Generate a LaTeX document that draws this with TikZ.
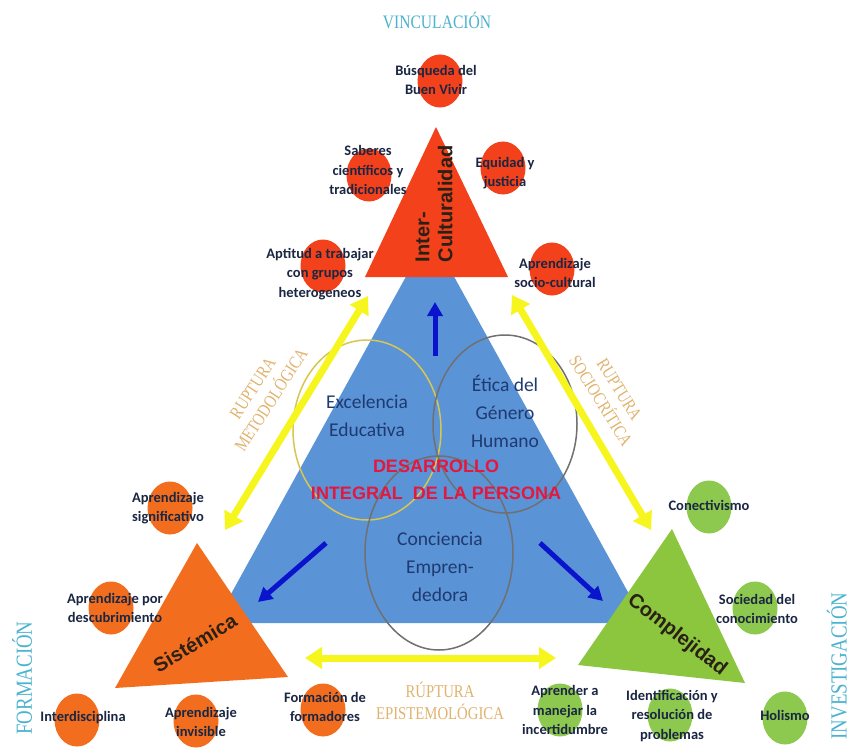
\documentclass[tikz,border=0pt]{standalone}
\usepackage{fontspec}
\setmainfont{Carlito}
\newfontfamily\headfont{Liberation Sans}
\newfontfamily\rupfont[FakeStretch=0.82]{Liberation Serif}
\usetikzlibrary{arrows.meta}
\usetikzlibrary{shapes.geometric}
\definecolor{blueTri}{HTML}{5A93D6}
\definecolor{redTri}{HTML}{F2411B}
\definecolor{orTri}{HTML}{F26E1E}
\definecolor{grTri}{HTML}{8CC63F}
\definecolor{grBub}{HTML}{8DC84F}
\definecolor{labText}{HTML}{1A2642}
\definecolor{innerText}{HTML}{1F3A70}
\definecolor{desaRed}{HTML}{E5173F}
\definecolor{triText}{HTML}{2A2016}
\definecolor{rupGold}{HTML}{E0B36E}
\definecolor{capsTeal}{HTML}{4BB3CF}
\definecolor{arrowYellow}{HTML}{F6F61E}
\definecolor{arrowBlue}{HTML}{0A14CC}
\definecolor{ringYellow}{HTML}{D8C650}
\definecolor{ringGray}{HTML}{707070}

\begin{document}
\begin{tikzpicture}[x=1pt, y=-1pt,
    bubble/.style={ellipse, minimum width=45pt, minimum height=53pt, inner sep=0pt},
    redbub/.style={bubble, fill=redTri},
    orbub/.style={bubble, fill=orTri},
    grbub/.style={bubble, fill=grBub},
    bubtext/.style={font=\bfseries\fontsize{14.5}{19.5}\selectfont, text=labText, align=center, inner sep=0pt},
    innertext/.style={font=\fontsize{19.5}{28}\selectfont, text=innerText, align=center, inner sep=0pt},
    trilabel/.style={font=\headfont\bfseries\fontsize{20}{23}\selectfont, text=triText, inner sep=0pt},
    ruptext/.style={font=\rupfont\fontsize{18}{22}\selectfont, text=rupGold, align=center, inner sep=0pt},
    axistext/.style={font=\rupfont\fontsize{23}{26}\selectfont, text=capsTeal, inner sep=0pt},
    ring/.style={line width=1.5pt},
    ruparrow/.style={draw=arrowYellow, line width=7pt, {Triangle[width=21pt,length=17pt]}-{Triangle[width=21pt,length=17pt]}},
    bluearrow/.style={draw=arrowBlue, line width=5pt, -{Triangle[width=15pt,length=14pt]}}
  ]
  \fill[white] (0,0) rectangle (851,749);
  \useasboundingbox (0,0) rectangle (851,749);

  \fill[blueTri] (430,233) -- (215,623) -- (645,623) -- cycle;
  \draw[ring, ringYellow] (367,430) ellipse (74 and 90);
  \draw[ring, ringGray] (505,424) ellipse (72 and 89);
  \draw[ring, ringGray] (439,553) ellipse (74 and 97);

  \fill[redTri] (436,127) -- (365,277) -- (508,277) -- cycle;
  \fill[orTri] (197,543) -- (115,688) -- (288,677) -- cycle;
  \fill[grTri] (672,529) -- (578,665) -- (745,683) -- cycle;

  \node[redbub] (vivir) at (440,81) {};
  \node[redbub] (saberes) at (369,175) {};
  \node[redbub] (equidad) at (503,168) {};
  \node[redbub] (aptitud) at (323,266) {};
  \node[redbub] (sociocult) at (552,269) {};
  \node[orbub] (signif) at (170,508) {};
  \node[orbub] (descub) at (111,608) {};
  \node[orbub] (interdis) at (77,720) {};
  \node[orbub] (invisible) at (196,721) {};
  \node[orbub] (formadores) at (323,710) {};
  \node[grbub] (conect) at (709,507) {};
  \node[grbub] (sociedad) at (755,608) {};
  \node[grbub] (incert) at (560,710) {};
  \node[grbub] (problemas) at (670,715) {};
  \node[grbub] (holismo) at (785,718) {};

  \coordinate (metod-a) at (368,296);
  \coordinate (metod-b) at (225,530);
  \coordinate (socio-a) at (512,295);
  \coordinate (socio-b) at (651,530);
  \coordinate (epist-a) at (305,658);
  \coordinate (epist-b) at (556,658);
  \draw[ruparrow] (metod-b) -- (metod-a);
  \draw[ruparrow] (socio-a) -- (socio-b);
  \draw[ruparrow] (epist-a) -- (epist-b);

  \coordinate (up-a) at (435,356);
  \coordinate (up-b) at (435,302);
  \coordinate (left-a) at (326,543);
  \coordinate (left-b) at (258,602);
  \coordinate (right-a) at (540,543);
  \coordinate (right-b) at (603,601);
  \draw[bluearrow] (up-a) -- (up-b);
  \draw[bluearrow] (left-a) -- (left-b);
  \draw[bluearrow] (right-a) -- (right-b);

  \node[bubtext] (vivir-t) at (436,80) {Búsqueda del\\Buen Vivir};
  \node[bubtext] (saberes-t) at (368,170) {Saberes\\científicos y\\tradicionales};
  \node[bubtext] (equidad-t) at (505,173) {Equidad y\\justicia};
  \node[bubtext] (aptitud-t) at (320,274) {Aptitud a trabajar\\con grupos\\heterogeneos};
  \node[bubtext] (sociocult-t) at (555,273) {Aprendizaje\\socio-cultural};
  \node[bubtext] (signif-t) at (168,508) {Aprendizaje\\significativo};
  \node[bubtext] (descub-t) at (115,608) {Aprendizaje por\\descubrimiento};
  \node[bubtext] (interdis-t) at (83,718) {Interdisciplina};
  \node[bubtext] (invisible-t) at (201,722) {Aprendizaje\\invisible};
  \node[bubtext] (formadores-t) at (325,707) {Formación de\\formadores};
  \node[bubtext] (conect-t) at (709,505) {Conectivismo};
  \node[bubtext] (sociedad-t) at (757,609) {Sociedad del\\conocimiento};
  \node[bubtext] (incert-t) at (565,710) {Aprender a\\manejar la\\incertidumbre};
  \node[bubtext] (problemas-t) at (672,716) {Identificación y\\resolución de\\problemas};
  \node[bubtext] (holismo-t) at (785,715) {Holismo};

  \node[innertext] (excel) at (367,416) {Excelencia\\Educativa};
  \node[innertext] (etica) at (505,411) {Ética del\\Género\\Humano};
  \node[innertext] (concien) at (440,567) {Conciencia\\Empren-\\dedora};
  \node[font=\headfont\bfseries\fontsize{18}{27}\selectfont, text=desaRed, align=center, inner sep=0pt] (desarrollo) at (436,480) {DESARROLLO\\INTEGRAL\ \ DE LA PERSONA};

  \node[trilabel, rotate=90, align=left] (inter) at (434,204) {Inter-\\Culturalidad};
  \node[trilabel, rotate=31] (sistemica) at (195,643) {Sistémica};
  \node[trilabel, rotate=-38] (complej) at (677,635) {Complejidad};

  \node[ruptext, rotate=57] (metod) at (262,394) {RUPTURA\\METODOLÓGICA};
  \node[ruptext, rotate=-58] (socio) at (610,395) {RUPTURA\\SOCIOCRÍTICA};
  \node[ruptext] (epist) at (440,701) {RÚPTURA\\EPISTEMOLÓGICA};

  \node[axistext, font=\rupfont\fontsize{19}{22}\selectfont] (vinc) at (437,20) {VINCULACIÓN};
  \node[axistext, rotate=90] (formac) at (22,678) {FORMACIÓN};
  \node[axistext, rotate=90] (investig) at (837,666) {INVESTIGACIÓN};
\end{tikzpicture}
\end{document}
